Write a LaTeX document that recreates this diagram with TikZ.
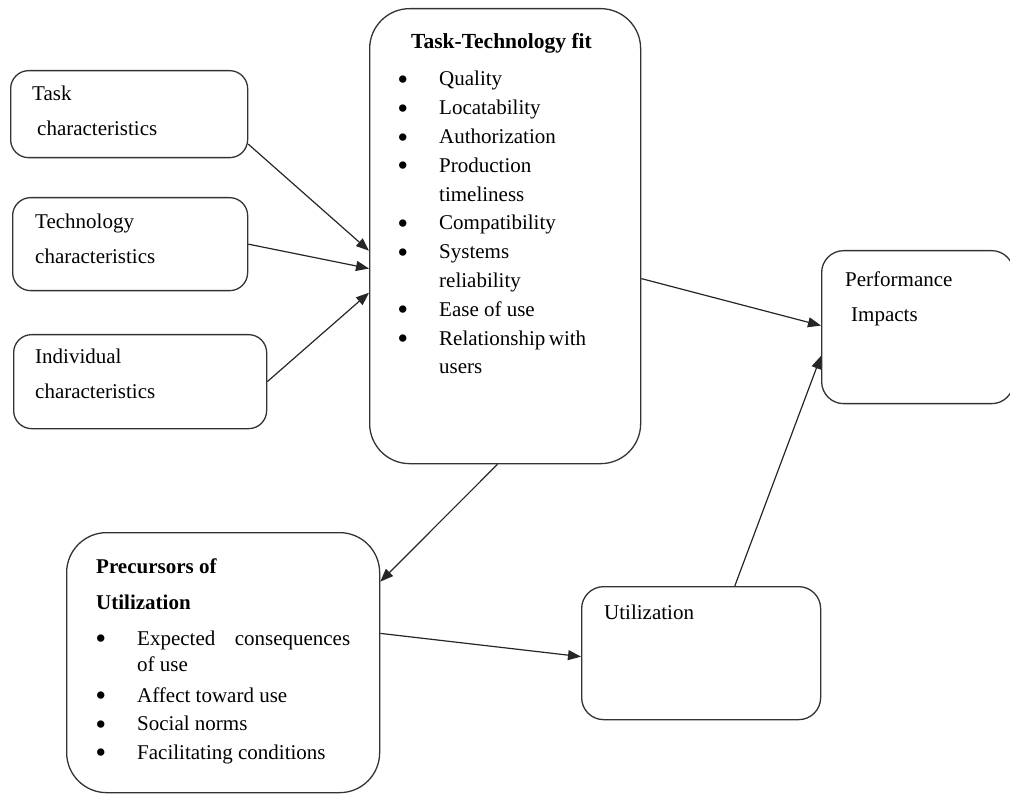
\documentclass[tikz,border=0pt]{standalone}
\usepackage{fontspec}
\setmainfont{Liberation Serif}
\usetikzlibrary{calc,arrows.meta}
\newcommand{\bigdot}{\raisebox{-2.5pt}{\fontsize{27}{27}\selectfont\textbf{\textbullet}}}
\begin{document}
\begin{tikzpicture}[x=1pt,y=-1pt,
  box/.style={draw=black!80, line width=1.3pt, rounded corners=#1, inner sep=0pt,
              anchor=north west, fill=none},
  box/.default=18pt,
  arr/.style={draw=black!85, line width=1.2pt, -{Triangle[length=13pt,width=10pt]}},
  txt/.style={anchor=base west, inner sep=0pt, font=\fontsize{21}{35}\selectfont},
  lst/.style={anchor=base west, inner sep=0pt, font=\fontsize{21}{#1}\selectfont},
  lst/.default=28.8pt]

\useasboundingbox (0,0) rectangle (1010,794);

% boxes
\node[box, minimum width=237pt, minimum height=87pt] (task) at (10,70) {};
\node[box, minimum width=235pt, minimum height=93pt] (tech) at (12,197) {};
\node[box, minimum width=253pt, minimum height=94pt] (indiv) at (13,334) {};
\node[box=40pt, minimum width=271pt, minimum height=455pt] (ttf) at (369,8) {};
\node[box=22pt, minimum width=192pt, minimum height=153pt] (perf) at (821,250) {};
\node[box=22pt, minimum width=239pt, minimum height=133pt] (util) at (581,586) {};
\node[box=40pt, minimum width=313pt, minimum height=260pt] (prec) at (66,532) {};

% labels of the input boxes
\node[txt] (taskt) at (32,101) {\begin{tabular}[t]{@{}l@{}}Task\\\hspace{5pt}characteristics\end{tabular}};
\node[txt] (techt) at (35,229) {\begin{tabular}[t]{@{}l@{}}Technology\\characteristics\end{tabular}};
\node[txt] (indivt) at (35,364) {\begin{tabular}[t]{@{}l@{}}Individual\\characteristics\end{tabular}};

% task-technology fit
\node[anchor=base west, inner sep=0pt, font=\fontsize{21.5}{26}\selectfont\bfseries] (ttft) at (411,49) {Task-Technology fit};
\node[lst] (ttfl) at (398,86) {\begin{tabular}[t]{@{}p{41pt}@{}l@{}}
\bigdot & Quality\\
\bigdot & Locatability\\
\bigdot & Authorization\\
\bigdot & Production\\
 & timeliness\\
\bigdot & Compatibility\\
\bigdot & Systems\\
 & reliability\\
\bigdot & Ease of use\\
\bigdot & Relationship\,with\\
 & users
\end{tabular}};

% performance impacts and utilization
\node[txt] (perft) at (845,287) {\begin{tabular}[t]{@{}l@{}}Performance\\\hspace{6pt}Impacts\end{tabular}};
\node[txt] (utilt) at (604,619) {Utilization};

% precursors of utilization
\node[anchor=base west, inner sep=0pt, font=\fontsize{21}{36}\selectfont\bfseries] (prect) at (96,573)
  {\begin{tabular}[t]{@{}l@{}}Precursors of\\Utilization\end{tabular}};
\node[lst=28.5pt] (precl) at (96,645) {\begin{tabular}[t]{@{}p{41pt}@{}l@{}}
\bigdot & \hbox to 213pt{Expected\hfill consequences}\\[-2pt]
 & of use\\[2pt]
\bigdot & Affect toward use\\
\bigdot & Social norms\\
\bigdot & Facilitating conditions
\end{tabular}};

% connectors
\draw[arr] ($(task.north east)!0.84!(task.south east)$) -- ($(ttf.north west)!0.532!(ttf.south west)$);
\draw[arr] ($(tech.north east)!0.5!(tech.south east)$) -- ($(ttf.north west)!0.571!(ttf.south west)$);
\draw[arr] (indiv.east) -- ($(ttf.north west)!0.624!(ttf.south west)$);
\draw[arr] ($(ttf.north east)!0.593!(ttf.south east)$) -- ($(perf.north west)!0.49!(perf.south west)$);
\draw[arr] ($(util.north west)!0.64!(util.north east)$) -- ($(perf.north west)!0.686!(perf.south west)$);
\draw[arr] ($(ttf.south west)!0.472!(ttf.south east)$) -- ($(prec.north east)!0.19!(prec.south east)$);
\draw[arr] ($(prec.north east)!0.388!(prec.south east)$) -- ($(util.north west)!0.526!(util.south west)$);
\end{tikzpicture}
\end{document}
